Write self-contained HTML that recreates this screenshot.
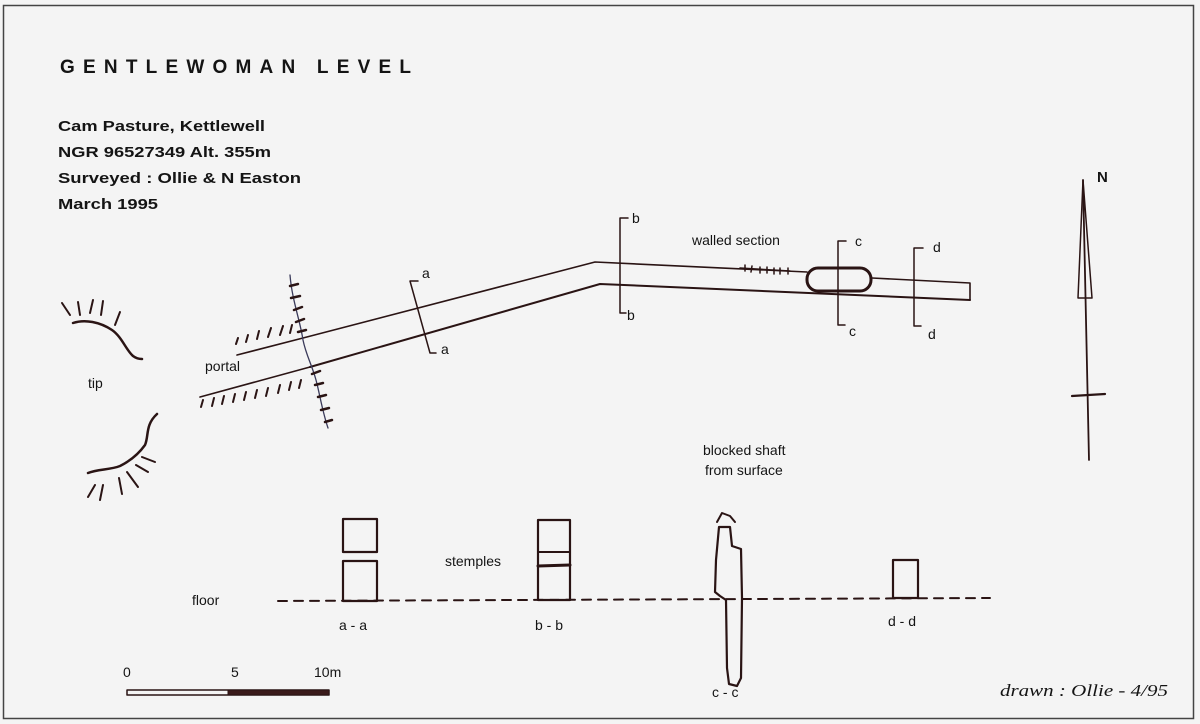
<!DOCTYPE html>
<html><head><meta charset="utf-8"><style>
html,body{margin:0;padding:0;background:#f3f3f3;}
svg{display:block;}
text{font-family:"Liberation Sans",Arial,sans-serif;fill:#141414;}
</style></head><body>
<svg width="1200" height="724" viewBox="0 0 1200 724" xmlns="http://www.w3.org/2000/svg">
<rect x="0" y="0" width="1200" height="724" fill="#f4f4f4"/>
<rect x="3.5" y="5.5" width="1190" height="713" fill="none" stroke="#444" stroke-width="1.5"/>

<text x="60" y="73" font-size="19" font-weight="bold" textLength="351" lengthAdjust="spacing">GENTLEWOMAN LEVEL</text>
<g font-size="15" font-weight="bold">
<text x="58" y="131" textLength="207" lengthAdjust="spacingAndGlyphs">Cam Pasture, Kettlewell</text>
<text x="58" y="157" textLength="213" lengthAdjust="spacingAndGlyphs">NGR 96527349 Alt. 355m</text>
<text x="58" y="183" textLength="243" lengthAdjust="spacingAndGlyphs">Surveyed : Ollie &amp; N Easton</text>
<text x="58" y="209" textLength="100" lengthAdjust="spacingAndGlyphs">March 1995</text>
</g>

<g fill="none" stroke="#2a1414" stroke-linecap="round" stroke-linejoin="round">
<path d="M73,323 C85,319 100,322 112,330 C122,337 126,350 133,356 C137,359 140,359 142,359" stroke-width="2.5"/>
<path d="M62,303 L70,315 M78,302 L80,315 M93,300 L90,313 M103,301 L101,315 M120,312 L115,325" stroke-width="2"/>
<path d="M88,473 C98,469 110,470 120,466 C132,460 140,452 145,445 C149,436 145,425 157,414" stroke-width="2.5"/>
<path d="M95,485 L88,497 M103,485 L100,500 M119,478 L122,494 M127,472 L138,487 M136,465 L148,472 M142,457 L155,462" stroke-width="2"/>

<path d="M237,355 L303,338 L595,262 L807,272" stroke-width="1.6"/>
<path d="M200,397 L310,367" stroke-width="1.6"/>
<path d="M310,367 L600,284 L970,300" stroke-width="2"/>
<path d="M872,278 L970,283 L970,300" stroke-width="1.6"/>
<rect x="807" y="268" width="64" height="23" rx="11" stroke-width="3"/>
<path d="M740,268 L790,271 M745,265 L745,271 M752,266 L751,272 M760,267 L760,273 M767,267 L767,273 M774,268 L774,274 M780,268 L780,274 M788,268 L788,274" stroke-width="1.5"/>

<path d="M290,275 C292,300 300,320 303,340 C306,355 312,365 316,380 C320,395 322,410 328,428" stroke="#3a3a5a" stroke-width="1.3"/>
<path d="M290,286 L298,284 M291,298 L300,296 M294,310 L302,307 M296,322 L304,319 M298,332 L306,330 M312,374 L320,371 M315,385 L323,383 M318,397 L326,395 M321,410 L329,408 M325,422 L332,420" stroke-width="2.5"/>
<path d="M236,344 L238,338 M246,342 L248,335 M257,339 L259,331 M268,337 L271,328 M280,335 L283,326 M290,333 L292,325" stroke-width="2"/>
<path d="M201,407 L203,400 M212,406 L214,398 M222,404 L224,396 M233,402 L235,394 M244,400 L246,392 M255,398 L257,390 M266,396 L268,388 M278,393 L280,385 M289,390 L291,382 M299,388 L301,380" stroke-width="2"/>

<g stroke-width="1.5">
<path d="M418,281 L410,281 L430,353 L436,353"/>
<path d="M628,218 L620,218 L620,313 L626,313"/>
<path d="M846,241 L838,241 L838,325 L845,325"/>
<path d="M923,248 L914,248 L914,326 L921,326"/>
</g>

<path d="M1083,180 L1089,460" stroke-width="1.8"/>
<path d="M1083,180 L1078,298 L1092,298 Z" stroke-width="1.5"/>
<path d="M1072,396 L1105,394" stroke-width="2.2"/>

<path d="M278,601 L990,598" stroke-width="2" stroke-dasharray="9,7"/>

<rect x="343" y="519" width="34" height="33" stroke-width="2.2"/>
<rect x="343" y="561" width="34" height="40" stroke-width="2.2"/>
<rect x="538" y="520" width="32" height="80" stroke-width="2.2"/>
<path d="M538,552 L570,552" stroke-width="2"/>
<path d="M538,566 L570,565" stroke-width="3"/>
<rect x="893" y="560" width="25" height="38" stroke-width="2.2"/>
<path d="M719,527 L730,527 L732,546 L741,549 L742,598 L741,678 L737,686 L729,684 L727,668 L726,600 L720,596 L715,592 L716,560 L719,527 Z" stroke-width="2.2"/>
<path d="M717,522 L722,513 L730,516 L735,522" stroke-width="2"/>

<rect x="127" y="690" width="202" height="5" stroke-width="1.5"/>
<rect x="228" y="690" width="101" height="5" fill="#3a1a1a" stroke-width="1"/>
</g>

<g font-size="14">
<text x="422" y="278">a</text>
<text x="441" y="354">a</text>
<text x="632" y="223">b</text>
<text x="627" y="320">b</text>
<text x="855" y="246">c</text>
<text x="849" y="336">c</text>
<text x="933" y="252">d</text>
<text x="928" y="339">d</text>
<text x="692" y="245">walled section</text>
<text x="205" y="371">portal</text>
<text x="88" y="388">tip</text>
<text x="703" y="455">blocked shaft</text>
<text x="705" y="475">from surface</text>
<text x="445" y="566">stemples</text>
<text x="192" y="605">floor</text>
<text x="339" y="630">a - a</text>
<text x="535" y="630">b - b</text>
<text x="712" y="697">c - c</text>
<text x="888" y="626">d - d</text>
<text x="123" y="677">0</text>
<text x="231" y="677">5</text>
<text x="314" y="677">10m</text>
</g>
<text x="1097" y="182" font-size="15" font-weight="bold">N</text>
<text x="1000" y="696" font-size="17" font-style="italic" textLength="168" lengthAdjust="spacingAndGlyphs" style="font-family:'Liberation Serif',serif">drawn : Ollie - 4/95</text>
</svg>
</body></html>
